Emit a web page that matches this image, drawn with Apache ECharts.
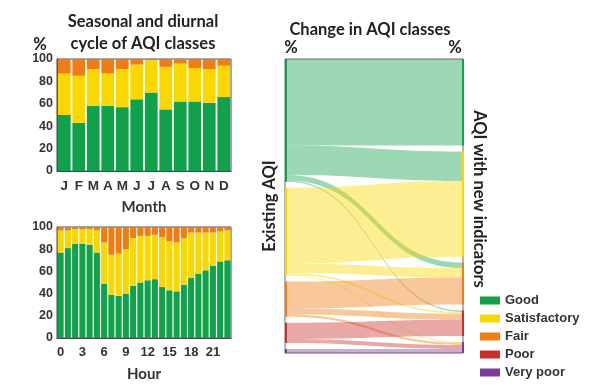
<!DOCTYPE html>
<html><head><meta charset="utf-8">
<script src="https://cdn.jsdelivr.net/npm/echarts@6/dist/echarts.min.js"></script>
<style>html,body{margin:0;padding:0;background:#fff}#c{width:590px;height:388px}</style>
</head><body><div id="c"></div><script>
// ---- data ----
const classNames = ['Good', 'Satisfactory', 'Fair', 'Poor', 'Very poor'];
const classColors = ['#12a14b', '#fad700', '#ef7d14', '#c8302c', '#7d3c9b'];

const months = ['J', 'F', 'M', 'A', 'M', 'J', 'J', 'A', 'S', 'O', 'N', 'D'];
const monthGood = [50, 43, 58, 58, 57, 64, 70, 55, 62, 62, 61, 66];
const monthSatisfactory = [37, 42, 33, 29, 34, 31, 29, 38, 34, 30, 30, 28];
const monthFair = [13, 15, 9, 13, 9, 5, 1, 7, 4, 8, 9, 6];

const hours = ['0', '1', '2', '3', '4', '5', '6', '7', '8', '9', '10', '11', '12', '13', '14', '15', '16', '17', '18', '19', '20', '21', '22', '23'];
const hourGood = [77, 81, 85, 85, 84, 77, 49, 39, 38, 40, 47, 50, 52, 53, 46, 43, 42, 48, 54, 58, 61, 65, 69, 70];
const hourSatisfactory = [20, 16, 13, 13, 14, 20, 37, 36, 38, 40, 43, 42, 40, 40, 45, 44, 44, 42, 41, 37, 34, 30, 27, 27];
const hourFair = [3, 3, 2, 2, 2, 3, 14, 25, 24, 20, 10, 8, 8, 7, 9, 13, 14, 10, 5, 5, 5, 5, 4, 3];

const existingNodes = ['Good', 'Satisfactory', 'Fair', 'Poor', 'Very poor'];
const newNodes = ['Good (new)', 'Satisfactory (new)', 'Fair (new)', 'Poor (new)', 'Very poor (new)'];
const linkSource = ['Good', 'Good', 'Good', 'Good',
  'Satisfactory', 'Satisfactory', 'Satisfactory', 'Satisfactory',
  'Fair', 'Fair', 'Fair', 'Poor', 'Poor', 'Very poor'];
const linkTarget = ['Good (new)', 'Satisfactory (new)', 'Fair (new)', 'Poor (new)',
  'Satisfactory (new)', 'Fair (new)', 'Poor (new)', 'Very poor (new)',
  'Fair (new)', 'Poor (new)', 'Very poor (new)', 'Poor (new)', 'Very poor (new)', 'Very poor (new)'];
const linkValue = [32, 11, 2, 0.5, 28, 3.5, 0.7, 0.3, 10, 2.2, 0.8, 6, 1.5, 1.5];

// ---- chart ----
const chart = echarts.init(document.getElementById('c'), null, {renderer: 'canvas'});
const axisColor = '#4a4a4a';
const labelFont = {color: '#333', fontWeight: 'bold', fontFamily: 'Liberation Sans', fontSize: 12.5};
const titleFont = 'bold 16.5px Lato';

function yAx(gi) {
  return {
    type: 'value', gridIndex: gi, min: 0, max: 100, interval: 20,
    axisLine: {show: true, lineStyle: {color: axisColor}},
    axisTick: {show: true, inside: true, length: 2, lineStyle: {color: axisColor}},
    splitLine: {show: false},
    axisLabel: Object.assign({}, labelFont, {margin: 4})
  };
}
function xAx(gi, cats, name, interval, fs) {
  return {
    type: 'category', gridIndex: gi, data: cats, name: name,
    nameLocation: 'middle', nameGap: 29,
    nameTextStyle: {color: '#333', fontWeight: 'bold', fontFamily: 'Lato', fontSize: 15},
    axisLine: {show: true, lineStyle: {color: axisColor}},
    axisTick: {show: true, inside: true, length: 2, alignWithLabel: true, interval: 0, lineStyle: {color: axisColor}},
    axisLabel: Object.assign({}, labelFont, {margin: 8, interval: interval, fontSize: fs})
  };
}
function bars(name, data, gi, ci, gap) {
  return {
    type: 'bar', name: name, data: data, stack: 'g' + gi,
    xAxisIndex: gi, yAxisIndex: gi, barCategoryGap: gap,
    itemStyle: {color: classColors[ci]}, emphasis: {disabled: true}, silent: true
  };
}

const sankeyData = existingNodes.map((n, i) => ({name: n, itemStyle: {color: classColors[i]}}))
  .concat(newNodes.map((n, i) => ({name: n, itemStyle: {color: classColors[i]}})));
const sankeyLinks = linkSource.map((s, i) => ({source: s, target: linkTarget[i], value: linkValue[i]}));

chart.setOption({
  animation: false,
  backgroundColor: '#fff',
  grid: [
    {left: 57, top: 59, width: 174, height: 112, show: true, borderColor: axisColor, borderWidth: 1},
    {left: 57, top: 227, width: 174, height: 111, show: true, borderColor: axisColor, borderWidth: 1},
    {left: 285, top: 59, width: 178, height: 294, show: true, borderColor: '#666', borderWidth: 1}
  ],
  xAxis: [
    xAx(0, months, 'Month', 0, 13.5),
    xAx(1, hours, 'Hour', 2, 13),
    {type: 'value', gridIndex: 2, show: false}
  ],
  yAxis: [yAx(0), yAx(1), {type: 'value', gridIndex: 2, show: false}],
  legend: {
    orient: 'vertical', left: 475, top: 289, itemWidth: 20, itemHeight: 8, itemGap: 5,
    selectedMode: false, icon: 'rect',
    data: classNames,
    textStyle: {color: '#333', fontWeight: 'bold', fontFamily: 'Liberation Sans', fontSize: 13}
  },
  series: [
    bars('Good', monthGood, 0, 0, '12%'),
    bars('Satisfactory', monthSatisfactory, 0, 1, '12%'),
    bars('Fair', monthFair, 0, 2, '12%'),
    bars('Good', hourGood, 1, 0, '16%'),
    bars('Satisfactory', hourSatisfactory, 1, 1, '16%'),
    bars('Fair', hourFair, 1, 2, '16%'),
    bars('Poor', [], 0, 3, '12%'),
    bars('Very poor', [], 0, 4, '12%'),
    {
      type: 'sankey', left: 285, top: 59, right: 126, bottom: 35,
      nodeWidth: 2, nodeGap: 6, layoutIterations: 0, draggable: false,
      data: sankeyData, links: sankeyLinks,
      label: {show: false},
      lineStyle: {color: 'source', opacity: 0.42, curveness: 0.5},
      emphasis: {disabled: true}, silent: true, z: 3
    }
  ],
  graphic: [
    {type: 'text', x: 143, y: 22, style: {text: 'Seasonal and diurnal', font: titleFont, fill: '#222', textAlign: 'center', textVerticalAlign: 'middle'}},
    {type: 'text', x: 143, y: 44, style: {text: 'cycle of AQI classes', font: titleFont, fill: '#222', textAlign: 'center', textVerticalAlign: 'middle'}},
    {type: 'text', x: 40, y: 45, style: {text: '%', font: titleFont, fill: '#222', textAlign: 'center', textVerticalAlign: 'middle'}},
    {type: 'text', x: 370, y: 30, style: {text: 'Change in AQI classes', font: titleFont, fill: '#222', textAlign: 'center', textVerticalAlign: 'middle'}},
    {type: 'text', x: 291, y: 48, style: {text: '%', font: titleFont, fill: '#222', textAlign: 'center', textVerticalAlign: 'middle'}},
    {type: 'text', x: 455, y: 48, style: {text: '%', font: titleFont, fill: '#222', textAlign: 'center', textVerticalAlign: 'middle'}},
    {type: 'text', x: 270, y: 206, rotation: Math.PI / 2, style: {text: 'Existing AQI', font: titleFont, fill: '#222', textAlign: 'center', textVerticalAlign: 'middle'}},
    {type: 'text', x: 479, y: 199, rotation: -Math.PI / 2, style: {text: 'AQI with new indicators', font: titleFont, fill: '#222', textAlign: 'center', textVerticalAlign: 'middle'}}
  ]
});
</script></body></html>
